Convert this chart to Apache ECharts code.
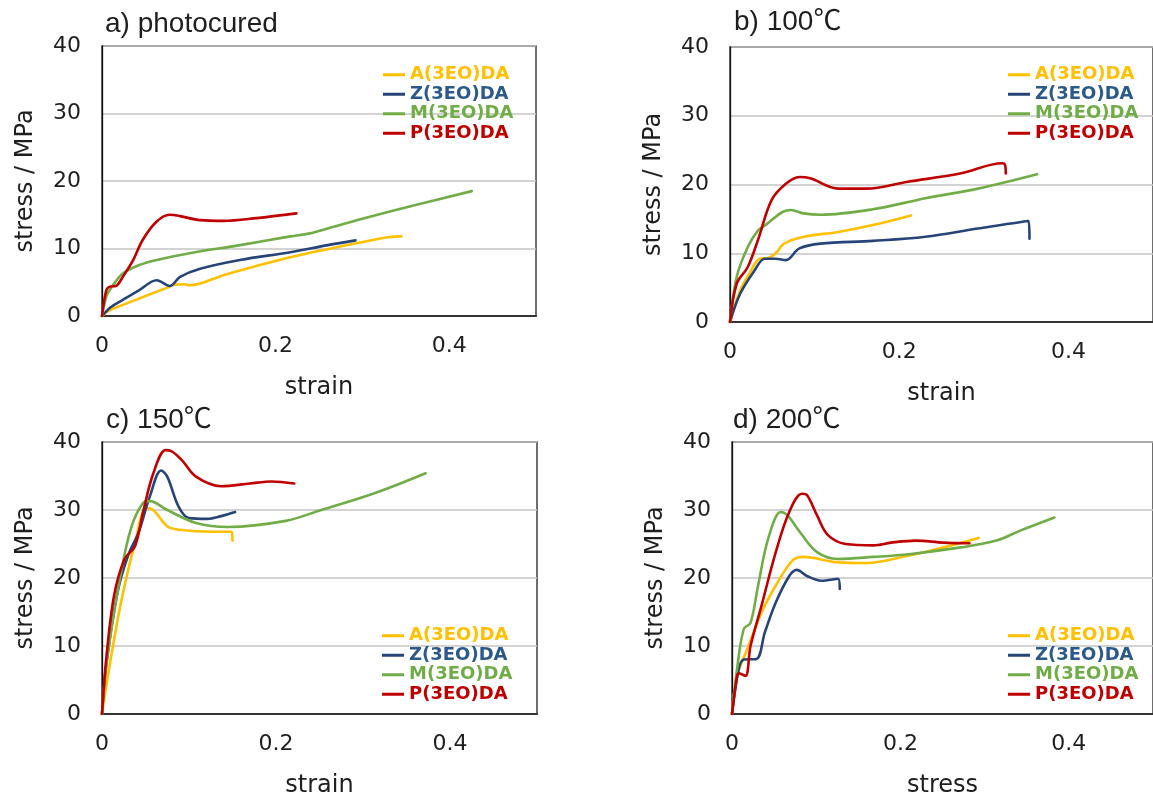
<!DOCTYPE html>
<html>
<head>
<meta charset="utf-8">
<title>Stress–strain curves</title>
<script src="https://cdn.jsdelivr.net/npm/echarts@6/dist/echarts.min.js"></script>
<style>
  html, body { margin: 0; padding: 0; background: #ffffff; }
  #chart { width: 1153px; height: 799px; }
</style>
</head>
<body>
<div id="chart"></div>
<script>
// ---- data: [strain, stress (MPa)] ----
const seriesNames = ['A(3EO)DA', 'Z(3EO)DA', 'M(3EO)DA', 'P(3EO)DA'];
const panelTitles = ['a) photocured', 'b) 100\u2103', 'c) 150\u2103', 'd) 200\u2103'];
const xAxisNames = ['strain', 'strain', 'strain', 'stress'];
const yAxisName = 'stress / MPa';
const yTicks = [0, 10, 20, 30, 40];
const xTicks = [0, 0.2, 0.4];

// a) photocured
const aA = [[0,0],[0.008,0.8],[0.024,1.65],[0.043,2.6],[0.063,3.6],[0.078,4.35],[0.083,4.65],[0.095,4.7],[0.101,4.55],[0.14,6.05],[0.178,7.4],[0.217,8.7],[0.26,9.9],[0.294,10.8],[0.331,11.7],[0.345,11.8]];
const aZ = [[0,0],[0.01,1.3],[0.024,2.4],[0.043,3.85],[0.063,5.3],[0.078,4.45],[0.09,5.8],[0.113,7.0],[0.159,8.3],[0.217,9.45],[0.26,10.5],[0.292,11.2]];
const aM = [[0,0],[0.005,2.9],[0.009,3.9],[0.024,6.3],[0.043,7.55],[0.063,8.3],[0.101,9.3],[0.159,10.5],[0.217,11.8],[0.238,12.2],[0.25,12.6],[0.3,14.4],[0.36,16.4],[0.426,18.5]];
const aP = [[0,0],[0.005,3.85],[0.009,4.35],[0.016,4.45],[0.024,5.8],[0.036,8.3],[0.047,11.3],[0.063,14.0],[0.078,15.0],[0.09,14.8],[0.113,14.2],[0.14,14.1],[0.178,14.5],[0.224,15.2]];

// b) 100 °C
const bA = [[0,0],[0.012,4.6],[0.025,7.5],[0.035,9.2],[0.045,9.3],[0.054,10.0],[0.064,11.4],[0.087,12.4],[0.128,13.1],[0.169,14.1],[0.214,15.5]];
const bZ = [[0,0],[0.012,4.1],[0.029,7.5],[0.041,9.2],[0.054,9.2],[0.066,9.0],[0.082,10.7],[0.107,11.4],[0.169,11.8],[0.231,12.4],[0.293,13.6],[0.353,14.7],[0.354,12.1]];
const bM = [[0,0],[0.008,6.6],[0.021,10.9],[0.033,13.3],[0.043,14.2],[0.049,14.8],[0.062,16.0],[0.072,16.3],[0.087,15.8],[0.107,15.6],[0.169,16.4],[0.231,18.0],[0.293,19.4],[0.363,21.5]];
const bP = [[0,0],[0.008,5.6],[0.021,8.0],[0.033,11.9],[0.049,17.7],[0.066,20.1],[0.082,21.1],[0.095,20.9],[0.128,19.4],[0.161,19.4],[0.21,20.4],[0.272,21.6],[0.322,23.1],[0.325,22.9],[0.326,21.6]];

// c) 150 °C
const cA = [[0,0],[0.009,7.3],[0.022,16.5],[0.038,25.2],[0.051,30.3],[0.059,30.0],[0.075,27.6],[0.088,27.1],[0.129,26.8],[0.149,26.8],[0.15,25.5]];
const cZ = [[0,0],[0.005,7.3],[0.018,18.0],[0.03,23.3],[0.042,26.7],[0.055,32.0],[0.068,35.8],[0.075,34.9],[0.088,30.5],[0.1,28.8],[0.121,28.7],[0.137,29.1],[0.153,29.7]];
const cM = [[0,0],[0.005,7.3],[0.022,20.9],[0.034,27.6],[0.047,31.0],[0.055,31.3],[0.075,30.0],[0.108,28.1],[0.145,27.5],[0.211,28.4],[0.252,30.0],[0.314,32.5],[0.372,35.4]];
const cP = [[0,0],[0.005,8.3],[0.014,17.5],[0.026,22.8],[0.038,24.7],[0.047,29.6],[0.059,35.4],[0.073,38.8],[0.079,38.7],[0.092,37.3],[0.108,34.9],[0.137,33.5],[0.17,33.9],[0.195,34.2],[0.221,33.9]];

// d) 200 °C
const dA = [[0,0],[0.006,5.6],[0.018,9.5],[0.035,14.9],[0.052,18.9],[0.072,22.6],[0.085,23.1],[0.126,22.3],[0.16,22.2],[0.21,23.3],[0.251,24.5],[0.293,25.9]];
const dZ = [[0,0],[0.008,6.6],[0.014,8.0],[0.029,8.1],[0.039,12.0],[0.052,16.4],[0.068,20.3],[0.077,21.2],[0.089,20.3],[0.106,19.6],[0.126,19.9],[0.128,18.4]];
const dM = [[0,0],[0.006,6.6],[0.014,12.5],[0.022,13.4],[0.031,18.9],[0.043,25.8],[0.058,29.7],[0.066,29.2],[0.081,26.7],[0.101,23.8],[0.126,22.8],[0.168,23.1],[0.21,23.5],[0.272,24.5],[0.314,25.5],[0.343,27.0],[0.383,28.9]];
const dP = [[0,0],[0.006,5.6],[0.008,6.0],[0.016,5.6],[0.022,10.0],[0.035,15.9],[0.052,23.8],[0.068,29.7],[0.083,32.4],[0.089,32.2],[0.101,29.2],[0.114,26.3],[0.135,25.0],[0.168,24.8],[0.189,25.2],[0.218,25.5],[0.251,25.2],[0.282,25.1]];

const panels = [
  [aA, aZ, aM, aP],
  [bA, bZ, bM, bP],
  [cA, cZ, cM, cP],
  [dA, dZ, dM, dP]
];

// ---- styling ----
const lineColors = ['#FFC000', '#264478', '#70AD47', '#C00000'];
const legendTextColors = ['#FFC000', '#2B5A8A', '#70AD47', '#C00000'];
const textColor = '#1e1e1e';
const tickFont = 'DejaVu Sans';
const titleFont = "'Liberation Sans', 'Noto Sans CJK JP', sans-serif";

// plot rectangles (the right-hand panels run past the window edge)
const grids = [
  { left: 102, top: 46,  width: 434, height: 270 },
  { left: 730, top: 47,  width: 433, height: 275 },
  { left: 102, top: 442, width: 435, height: 275 },
  { left: 732, top: 442, width: 433, height: 272 }
];
const titlePos = [
  { left: 105, top: 10 },
  { left: 734, top: 8 },
  { left: 106, top: 406 },
  { left: 733, top: 406 }
];
const legendPos = [
  { left: 383, top: 65 },
  { left: 1008, top: 65 },
  { left: 382, top: 626 },
  { left: 1008, top: 626 }
];

const option = {
  backgroundColor: '#ffffff',
  animation: false,
  title: panelTitles.map((t, i) => ({
    text: t,
    left: titlePos[i].left,
    top: titlePos[i].top,
    padding: 0,
    textStyle: { fontFamily: titleFont, fontSize: 28, fontWeight: 'normal', color: textColor }
  })),
  legend: legendPos.map((p, i) => ({
    orient: 'vertical',
    left: p.left,
    top: p.top,
    padding: 0,
    itemGap: 0,
    itemWidth: 22,
    itemHeight: 3,
    icon: 'rect',
    selectedMode: false,
    textStyle: { fontFamily: 'DejaVu Sans', fontWeight: 'bold', fontSize: 18, lineHeight: 19.5 },
    data: seriesNames.map((n, k) => ({ name: n, textStyle: { color: legendTextColors[k] } }))
  })),
  grid: grids.map(g => Object.assign({
    show: true,
    borderColor: '#222222',
    borderWidth: 1.3,
    backgroundColor: 'transparent',
    containLabel: false
  }, g)),
  xAxis: grids.map((g, i) => ({
    type: 'value',
    gridIndex: i,
    min: 0,
    max: 0.5,
    interval: 0.2,
    name: xAxisNames[i],
    nameLocation: 'middle',
    nameGap: 60,
    nameTextStyle: { fontFamily: tickFont, fontSize: 24, color: textColor },
    axisLine: { show: true, onZero: false, lineStyle: { color: '#333333', width: 2 } },
    axisTick: { show: false },
    splitLine: { show: false },
    axisLabel: {
      fontFamily: tickFont, fontSize: 22, color: textColor, margin: 19,
      showMaxLabel: false,
      formatter: v => (xTicks.some(t => Math.abs(t - v) < 1e-9) ? String(v) : '')
    }
  })),
  yAxis: grids.map((g, i) => ({
    type: 'value',
    gridIndex: i,
    min: yTicks[0],
    max: yTicks[yTicks.length - 1],
    interval: 10,
    name: yAxisName,
    nameLocation: 'middle',
    nameGap: 64,
    nameTextStyle: { fontFamily: tickFont, fontSize: 24, color: textColor },
    axisLine: { show: true, lineStyle: { color: '#111111', width: 1.3 } },
    axisTick: { show: false },
    splitLine: { show: true, lineStyle: { color: '#c4c4c4', width: 1.6 } },
    axisLabel: { fontFamily: tickFont, fontSize: 22, color: textColor, margin: 21 }
  })),
  series: []
};

panels.forEach((curves, p) => {
  curves.forEach((pts, k) => {
    option.series.push({
      type: 'line',
      name: seriesNames[k],
      xAxisIndex: p,
      yAxisIndex: p,
      data: pts,
      showSymbol: false,
      smooth: 0.35,
      lineStyle: { color: lineColors[k], width: 2.6, join: 'round', cap: 'round' },
      itemStyle: { color: lineColors[k] },
      z: 2 + k
    });
  });
});

const chart = echarts.init(document.getElementById('chart'), null, { renderer: 'canvas' });
chart.setOption(option);
</script>
</body>
</html>
